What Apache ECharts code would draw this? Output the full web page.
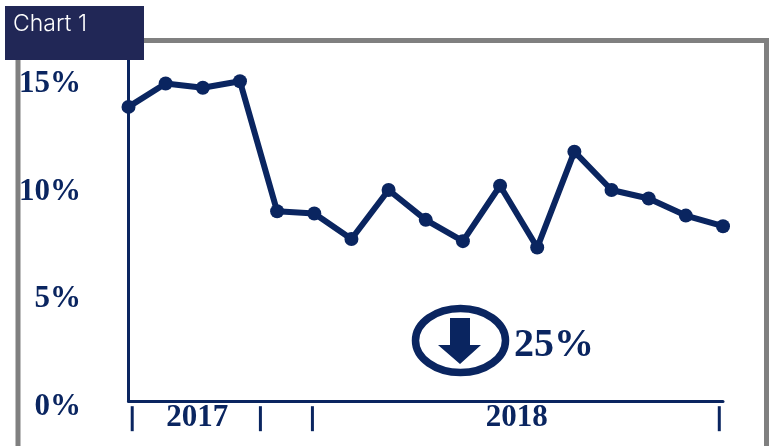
<!DOCTYPE html>
<html>
<head>
<meta charset="utf-8">
<style>html,body{margin:0;padding:0;background:#fff}#chart{width:771px;height:446px}</style>
<script src="https://cdn.jsdelivr.net/npm/echarts@6/dist/echarts.min.js"></script>
</head>
<body>
<div id="chart"></div>
<script>
// Monthly rate, Jan 2017 onward, in percent
const rates = [13.8, 14.9, 14.7, 15.0, 8.9, 8.8, 7.6, 9.9, 8.5, 7.5, 10.1, 7.2, 11.7, 9.9, 9.5, 8.7, 8.2];
const yTicks = [0, 5, 10, 15];
const yearNames = ['2017', '2018'];
const yearCentres = [1.85, 10.45];
const yearDividers = [0.1, 3.55, 4.95, 15.9];

const navy = '#0a2560';
const serif = '"Liberation Serif", serif';

const chart = echarts.init(document.getElementById('chart'), null, { renderer: 'canvas' });
chart.setOption({
  backgroundColor: '#fff',
  animation: false,
  grid: [
    { left: 128.5, right: 48, top: 60, bottom: 45 },
    // labels of the percent scale sit on their own slightly offset band
    { left: 128, right: 48, top: 84, bottom: 39 }
  ],
  xAxis: [
    { type: 'value', gridIndex: 0, min: 0, max: 16, splitLine: { show: false },
      axisLabel: { show: false }, axisTick: { show: false },
      axisLine: { show: true, lineStyle: { color: navy, width: 3 } } },
    { type: 'value', gridIndex: 1, min: 0, max: 16, show: false }
  ],
  yAxis: [
    { type: 'value', gridIndex: 0, min: 0, max: 16, splitLine: { show: false },
      axisLabel: { show: false }, axisTick: { show: false },
      axisLine: { show: true, lineStyle: { color: navy, width: 3 } } },
    { type: 'value', gridIndex: 1, min: 0, max: 15, interval: 5, splitLine: { show: false },
      axisLine: { show: false }, axisTick: { show: false },
      axisLabel: { margin: 47, color: navy, fontFamily: serif, fontWeight: 'bold', fontSize: 31,
        formatter: v => yTicks.includes(v) ? v + '%' : '' } }
  ],
  series: [
    { type: 'line', xAxisIndex: 0, yAxisIndex: 0,
      data: rates.map((v, i) => [i, v]),
      symbol: 'circle', symbolSize: 14, clip: false,
      lineStyle: { color: navy, width: 6 }, itemStyle: { color: navy } },
    { type: 'scatter', xAxisIndex: 0, yAxisIndex: 0, clip: false,
      data: yearDividers.map(x => [x, -0.83]),
      symbol: 'rect', symbolSize: [3, 25], itemStyle: { color: navy, opacity: 1 } },
    { type: 'scatter', xAxisIndex: 0, yAxisIndex: 0, clip: false,
      data: yearNames.map((n, i) => ({ name: n, value: [yearCentres[i], -0.78] })),
      symbolSize: 1, itemStyle: { color: 'transparent' },
      label: { show: true, position: 'inside', formatter: '{b}', color: navy, opacity: 1,
        fontFamily: serif, fontWeight: 'bold', fontSize: 31 } }
  ],
  graphic: [
    // outer frame
    { type: 'rect', shape: { x: 18, y: 40.5, width: 748.5, height: 430 }, z: 0,
      style: { fill: 'none', stroke: '#808080', lineWidth: 5 } },
    // header tab
    { type: 'rect', shape: { x: 5, y: 6, width: 139, height: 54 }, z: 20,
      style: { fill: '#212756' } },
    { type: 'text', x: 13, y: 13, z: 21,
      style: { text: 'Chart 1', fill: '#fff', font: '300 23px Inter, sans-serif' } },
    // down-arrow badge with the overall change
    { type: 'ellipse', shape: { cx: 460.5, cy: 340.5, rx: 45, ry: 32 }, z: 10,
      style: { fill: '#fff', stroke: navy, lineWidth: 7.5 } },
    { type: 'polygon', z: 11,
      shape: { points: [[450, 318], [470, 318], [470, 345], [481, 345], [460, 364], [438, 345], [450, 345]] },
      style: { fill: navy } },
    { type: 'text', x: 514, y: 326, z: 11,
      style: { text: '25%', fill: navy, font: 'bold 40px "Liberation Serif", serif' } }
  ]
});
</script>
</body>
</html>
